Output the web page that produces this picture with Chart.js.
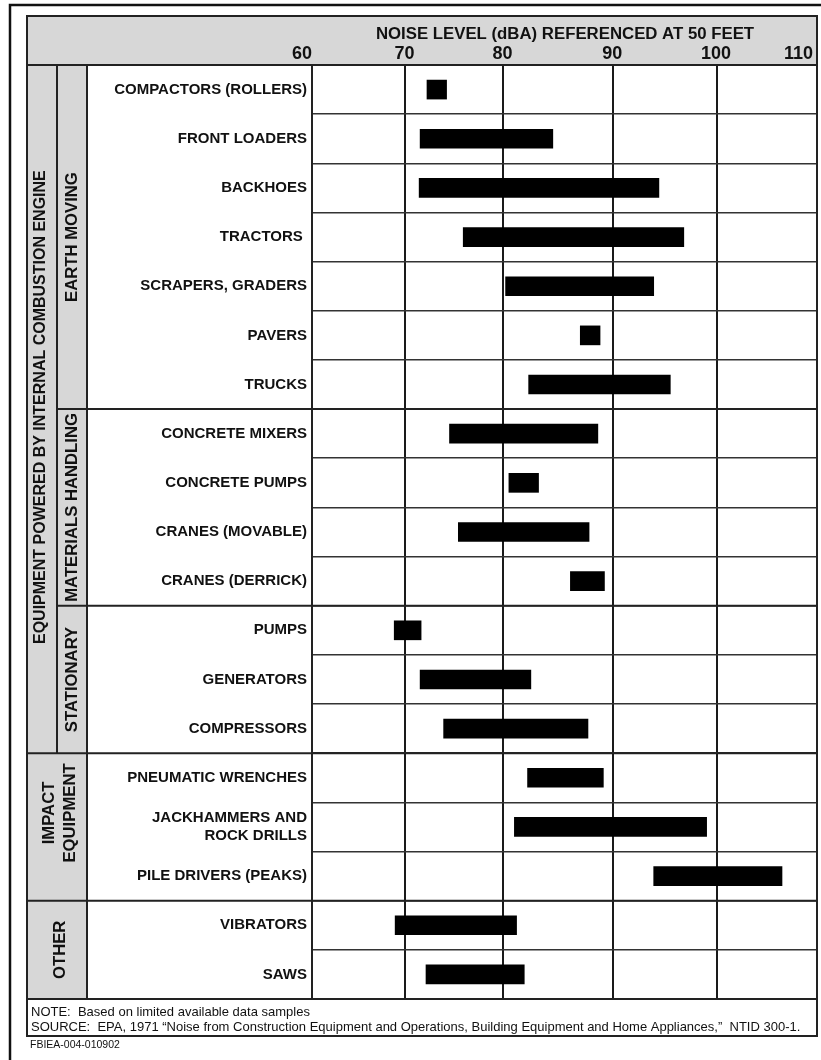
<!DOCTYPE html>
<html>
<head>
<meta charset="utf-8">
<script src="https://cdn.jsdelivr.net/npm/chart.js@4.4.1/dist/chart.umd.min.js"></script>
<style>
html,body{margin:0;padding:0;background:#fff;}
#wrap{width:821px;height:1060px;position:relative;overflow:hidden;}
canvas{display:block;}
</style>
</head>
<body>
<div id="wrap"><canvas id="c" width="821" height="1060"></canvas></div>
<script>
// ---------- DATA ----------
const categories = ['COMPACTORS (ROLLERS)', 'FRONT LOADERS', 'BACKHOES', 'TRACTORS ', 'SCRAPERS, GRADERS',
  'PAVERS', 'TRUCKS', 'CONCRETE MIXERS', 'CONCRETE PUMPS', 'CRANES (MOVABLE)', 'CRANES (DERRICK)',
  'PUMPS', 'GENERATORS', 'COMPRESSORS', 'PNEUMATIC WRENCHES', ['JACKHAMMERS AND', 'ROCK DRILLS'],
  'PILE DRIVERS (PEAKS)', 'VIBRATORS', 'SAWS'];
const lowValues  = [72.2, 71.5, 71.4, 75.9, 80.2, 87.0, 82.3, 74.5, 80.5, 75.4, 86.1, 68.8, 71.5, 73.9, 82.2, 81.0, 93.9, 68.9, 72.1];
const highValues = [74.2, 84.5, 94.4, 96.8, 93.9, 88.8, 95.5, 88.6, 83.2, 87.8, 89.2, 71.6, 82.5, 87.7, 89.1, 99.0, 106.5, 81.2, 81.9];
const tickValues = [60, 70, 80, 90, 100, 110];
const subGroupNames = ['EARTH MOVING', 'MATERIALS HANDLING', 'STATIONARY', ['IMPACT', 'EQUIPMENT'], 'OTHER'];
const subGroupFirstRow = [0, 7, 11, 14, 17];
const subGroupLastRow  = [6, 10, 13, 16, 18];
const mainGroupName = 'EQUIPMENT POWERED BY INTERNAL COMBUSTION ENGINE';
const mainGroupRows = [0, 13];
const axisTitle = 'NOISE LEVEL (dBA) REFERENCED AT 50 FEET';
const noteText = 'NOTE:  Based on limited available data samples';
const sourceText = 'SOURCE:  EPA, 1971 \u201CNoise from Construction Equipment and Operations, Building Equipment and Home Appliances,\u201D  NTID 300-1.';
const docId = 'FBIEA-004-010902';

// ---------- piecewise-linear axis (the printed grid is not evenly spaced) ----------
const FONT = "'Liberation Sans', Arial, Helvetica, sans-serif";
const gridFractions = [0, 0.185, 0.379, 0.5965, 0.802, 1];

class PiecewiseScale extends Chart.LinearScale {
  _toFrac(v) {
    const b = tickValues, f = gridFractions;
    let i = 1;
    while (i < b.length - 1 && v > b[i]) i++;
    return f[i - 1] + (v - b[i - 1]) * (f[i] - f[i - 1]) / (b[i] - b[i - 1]);
  }
  _fromFrac(d) {
    const b = tickValues, f = gridFractions;
    let i = 1;
    while (i < f.length - 1 && d > f[i]) i++;
    return b[i - 1] + (d - f[i - 1]) * (b[i] - b[i - 1]) / (f[i] - f[i - 1]);
  }
  getPixelForValue(value) {
    if (value === null || value === undefined || isNaN(value)) return NaN;
    return this.getPixelForDecimal(this._toFrac(value));
  }
  getValueForPixel(pixel) {
    return this._fromFrac(this.getDecimalForPixel(pixel));
  }
}
PiecewiseScale.id = 'piecewise';
PiecewiseScale.defaults = Chart.LinearScale.defaults;
Chart.register(PiecewiseScale);

// ---------- table frame plugin ----------
const L = { outerX: 10, outerY: 5, left: 27, top: 16, col1: 57, col2: 87, right: 817, footBottom: 1036 };

function boundaryY(yScale, rowAfter) {
  return (yScale.getPixelForValue(rowAfter - 1) + yScale.getPixelForValue(rowAfter)) / 2;
}
function edgeTop(yScale, row) {
  if (row === 0) return yScale.top;
  return boundaryY(yScale, row);
}
function edgeBottom(yScale, row) {
  if (row === categories.length - 1) return yScale.bottom;
  return boundaryY(yScale, row + 1);
}
function vText(ctx, lines, x, y, lineGap) {
  const arr = Array.isArray(lines) ? lines : [lines];
  ctx.save();
  ctx.translate(x, y);
  ctx.rotate(-Math.PI / 2);
  ctx.textAlign = 'center';
  ctx.textBaseline = 'middle';
  const n = arr.length;
  arr.forEach((t, i) => ctx.fillText(t, 0, (i - (n - 1) / 2) * lineGap));
  ctx.restore();
}

const framePlugin = {
  id: 'frame',
  beforeDraw(chart) {
    const ctx = chart.ctx, ca = chart.chartArea;
    ctx.save();
    ctx.fillStyle = '#ffffff';
    ctx.fillRect(0, 0, chart.width, chart.height);
    ctx.fillStyle = '#d7d7d7';
    ctx.fillRect(L.left, L.top, L.right - L.left, ca.top - L.top);
    ctx.fillRect(L.left, ca.top, L.col2 - L.left, ca.bottom - ca.top);
    ctx.restore();
  },
  afterDraw(chart) {
    const ctx = chart.ctx, ca = chart.chartArea;
    const xs = chart.scales.x, ys = chart.scales.y;
    ctx.save();
    ctx.strokeStyle = '#111';
    ctx.lineCap = 'butt';
    // outer frame
    ctx.lineWidth = 2.5;
    ctx.beginPath();
    ctx.moveTo(L.outerX, chart.height); ctx.lineTo(L.outerX, L.outerY); ctx.lineTo(chart.width, L.outerY);
    ctx.stroke();
    // table outline
    ctx.lineWidth = 2;
    ctx.strokeStyle = '#222';
    ctx.strokeRect(L.left, L.top, L.right - L.left, L.footBottom - L.top);
    ctx.beginPath();
    ctx.moveTo(L.left, ca.top); ctx.lineTo(L.right, ca.top);
    ctx.moveTo(L.left, ca.bottom); ctx.lineTo(L.right, ca.bottom);
    ctx.moveTo(L.col2, ca.top); ctx.lineTo(L.col2, ca.bottom);
    ctx.moveTo(ca.left, ca.top); ctx.lineTo(ca.left, ca.bottom);
    const mainBottom = edgeBottom(ys, mainGroupRows[1]);
    ctx.moveTo(L.col1, ca.top); ctx.lineTo(L.col1, mainBottom);
    // group boundaries
    for (let g = 1; g < subGroupFirstRow.length; g++) {
      const y = boundaryY(ys, subGroupFirstRow[g]);
      const inMain = subGroupFirstRow[g] <= mainGroupRows[1];
      ctx.moveTo(inMain ? L.col1 : L.left, y); ctx.lineTo(L.right, y);
    }
    ctx.stroke();

    // title + x tick labels
    ctx.fillStyle = '#111';
    ctx.textBaseline = 'middle';
    ctx.font = 'bold 16.8px ' + FONT;
    ctx.textAlign = 'center';
    ctx.fillText(axisTitle, 565, 34);
    ctx.font = 'bold 18px ' + FONT;
    xs.ticks.forEach((t, i) => {
      const px = xs.getPixelForValue(t.value);
      let xPos = px - 1;
      if (i === 0) { ctx.textAlign = 'right'; xPos = px; }
      else if (i === xs.ticks.length - 1) { ctx.textAlign = 'right'; xPos = px - 4; }
      else ctx.textAlign = 'center';
      ctx.fillText(String(t.value), xPos, 54);
    });

    // vertical group labels
    ctx.font = 'bold 16px ' + FONT;
    const mTop = edgeTop(ys, mainGroupRows[0]);
    vText(ctx, mainGroupName, (L.left + L.col1) / 2 - 1, (mTop + mainBottom) / 2 - 2, 0);
    ctx.font = 'bold 16.7px ' + FONT;
    subGroupNames.forEach((name, g) => {
      const y0 = edgeTop(ys, subGroupFirstRow[g]);
      const y1 = edgeBottom(ys, subGroupLastRow[g]);
      const inMain = subGroupFirstRow[g] <= mainGroupRows[1];
      const cx = inMain ? (L.col1 + L.col2) / 2 : (L.left + L.col2) / 2 + 3;
      const shift = Array.isArray(name) ? -14 : 0;
      vText(ctx, name, cx, (y0 + y1) / 2 + shift, 21);
    });

    // footer
    ctx.textAlign = 'left';
    ctx.font = '13px ' + FONT;
    ctx.fillText(noteText, 31, 1012);
    ctx.fillText(sourceText, 31, 1027);
    ctx.font = '10.5px ' + FONT;
    ctx.fillText(docId, 30, 1045);
    ctx.restore();
  }
};

new Chart(document.getElementById('c'), {
  type: 'bar',
  data: {
    labels: categories,
    datasets: [{
      data: lowValues.map((v, i) => [v, highValues[i]]),
      backgroundColor: '#000',
      borderWidth: 0,
      barThickness: 19
    }]
  },
  options: {
    indexAxis: 'y',
    responsive: false,
    animation: false,
    layout: { padding: { left: 0, top: 0, right: 4, bottom: 61 } },
    plugins: { legend: { display: false }, tooltip: { enabled: false } },
    scales: {
      x: {
        type: 'piecewise',
        position: 'top',
        min: 60, max: 110,
        ticks: { stepSize: 10, display: false },
        grid: { color: '#1a1a1a', lineWidth: 2, drawTicks: false },
        border: { display: false },
        afterFit(s) { s.height = 65; }
      },
      y: {
        type: 'category',
        position: 'left',
        grid: { color: '#333', lineWidth: 1.6, drawTicks: false, offset: true },
        border: { display: false },
        ticks: {
          autoSkip: false,
          padding: 5,
          color: '#111',
          font: { family: FONT, size: 15, weight: 'bold', lineHeight: 1.2 }
        },
        afterFit(s) { s.width = 312; }
      }
    }
  },
  plugins: [framePlugin]
});
</script>
</body>
</html>
